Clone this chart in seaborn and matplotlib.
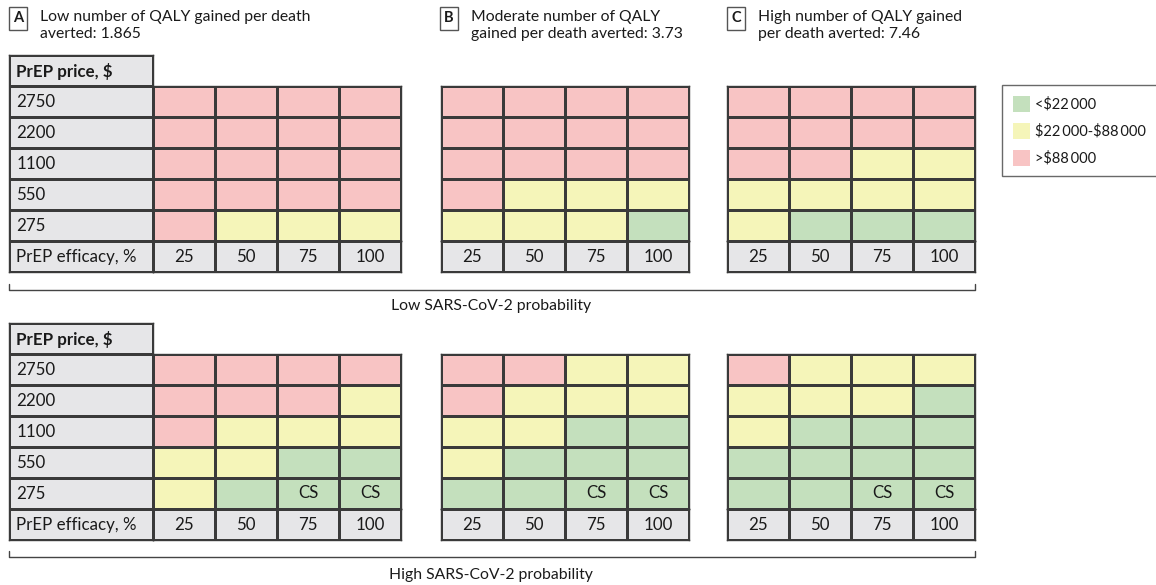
import numpy as np
import matplotlib
matplotlib.use("Agg")
import matplotlib.pyplot as plt
from matplotlib.colors import ListedColormap
from matplotlib.patches import Patch
import seaborn as sns

sns.set_style("white")
plt.rcParams['font.family'] = ['Lato', 'DejaVu Sans']

# ---- data ----
prices = ["2750", "2200", "1100", "550", "275"]
efficacy = ["25", "50", "75", "100"]
panel_letters = ["A", "B", "C"]
panel_titles = ["Low number of QALY gained per death\naverted: 1.865",
                "Moderate number of QALY\ngained per death averted: 3.73",
                "High number of QALY gained\nper death averted: 7.46"]
section_labels = ["Low SARS-CoV-2 probability", "High SARS-CoV-2 probability"]
legend_labels = ["<\\$22\u2009000", "\\$22\u2009000-\\$88\u2009000", ">\\$88\u2009000"]

# 0 = <$22000, 1 = $22000-$88000, 2 = >$88000
low_A = [[2, 2, 2, 2], [2, 2, 2, 2], [2, 2, 2, 2], [2, 2, 2, 2], [2, 1, 1, 1]]
low_B = [[2, 2, 2, 2], [2, 2, 2, 2], [2, 2, 2, 2], [2, 1, 1, 1], [1, 1, 1, 0]]
low_C = [[2, 2, 2, 2], [2, 2, 2, 2], [2, 2, 1, 1], [1, 1, 1, 1], [1, 0, 0, 0]]
high_A = [[2, 2, 2, 2], [2, 2, 2, 1], [2, 1, 1, 1], [1, 1, 0, 0], [1, 0, 0, 0]]
high_B = [[2, 2, 1, 1], [2, 1, 1, 1], [1, 1, 0, 0], [1, 0, 0, 0], [0, 0, 0, 0]]
high_C = [[2, 1, 1, 1], [1, 1, 1, 0], [1, 0, 0, 0], [0, 0, 0, 0], [0, 0, 0, 0]]
# cost-saving marks
cs_low = [["", "", "", ""]] * 5
cs_high = [["", "", "", ""]] * 4 + [["", "", "CS", "CS"]]

sections = [[low_A, low_B, low_C], [high_A, high_B, high_C]]
section_cs = [cs_low, cs_high]

# ---- style ----
green, yellow, pink = "#C4E0BD", "#F5F5B9", "#F8C4C4"
gray = "#E6E6E8"
edge = "#3a3a3a"
txt = "#1a1a1a"
cmap = ListedColormap([green, yellow, pink])
W, H = 1156, 585
fs = 12.2

fig = plt.figure(figsize=(W / 100, H / 100), dpi=100)


def add_ax(x0, y0, x1, y1):
    return fig.add_axes([x0 / W, 1 - y1 / H, (x1 - x0) / W, (y1 - y0) / H])


def frame(ax):
    for s in ax.spines.values():
        s.set_visible(True)
        s.set_color(edge)
        s.set_linewidth(1)


panel_x = [153, 441, 727]
col_w = 248
section_top = [55, 323]
row_h = 31

for si, panels in enumerate(sections):
    top = section_top[si]
    grid_top = top + row_h
    grid_bot = grid_top + 5 * row_h
    eff_bot = grid_bot + row_h
    for pi, codes in enumerate(panels):
        x0 = panel_x[pi]
        ax = add_ax(x0, grid_top, x0 + col_w, grid_bot)
        sns.heatmap(np.array(codes), cmap=cmap, vmin=-0.5, vmax=2.5, cbar=False,
                    linewidths=1, linecolor=edge, annot=np.array(section_cs[si]), fmt="",
                    annot_kws={"fontsize": fs, "color": txt},
                    xticklabels=False, yticklabels=False, ax=ax)
        frame(ax)
        ax2 = add_ax(x0, grid_bot, x0 + col_w, eff_bot)
        sns.heatmap(np.zeros((1, 4)), cmap=ListedColormap([gray]), cbar=False,
                    linewidths=1, linecolor=edge, annot=np.array([efficacy]), fmt="",
                    annot_kws={"fontsize": fs, "color": txt},
                    xticklabels=False, yticklabels=False, ax=ax2)
        frame(ax2)

    # label column
    axl = add_ax(9, top, 153, eff_bot)
    sns.heatmap(np.zeros((7, 1)), cmap=ListedColormap([gray]), cbar=False,
                linewidths=1, linecolor=edge, xticklabels=False, yticklabels=False, ax=axl)
    frame(axl)
    row_labels = ["PrEP price, \\$"] + prices + ["PrEP efficacy, %"]
    for i, lab in enumerate(row_labels):
        axl.text(0.05, i + 0.52, lab, ha="left", va="center", fontsize=fs, color=txt,
                 fontweight="bold" if i == 0 else "normal")

# overlay for titles, brackets
ov = fig.add_axes([0, 0, 1, 1], zorder=-1)
ov.set_xlim(0, W)
ov.set_ylim(H, 0)
ov.axis("off")

title_x = [9, 440, 727]
for pi in range(3):
    ov.text(title_x[pi] + 9, 18.5, panel_letters[pi], ha="center", va="center", fontsize=10.5,
            fontweight="bold", color=txt,
            bbox=dict(boxstyle="square,pad=0.3", fc="white", ec="#555555", lw=1))
    ov.text(title_x[pi] + 31, 10.5, panel_titles[pi], ha="left", va="top", fontsize=11.3,
            color=txt, linespacing=1.2)

bracket_y = [290, 557]
label_y = [306, 575]
for si in range(2):
    y = bracket_y[si]
    ov.plot([9, 9, 975, 975], [y - 6, y, y, y - 6], color="#444444", lw=1)
    ov.text(491, label_y[si], section_labels[si], ha="center", va="center", fontsize=11.3,
            color=txt)

handles = [Patch(fc=c, ec="none") for c in [green, yellow, pink]]
leg = fig.legend(handles, legend_labels, loc="upper left",
                 bbox_to_anchor=(1002 / W, 1 - 85 / H), frameon=True, fancybox=False,
                 fontsize=10.5, handlelength=1.2, handleheight=1.3, handletextpad=0.3,
                 labelspacing=0.75, borderpad=0.75, borderaxespad=0, edgecolor="#444444")
leg.get_frame().set_linewidth(1)
for t in leg.get_texts():
    t.set_color(txt)

fig.savefig("out.png", dpi=100, facecolor="white")
